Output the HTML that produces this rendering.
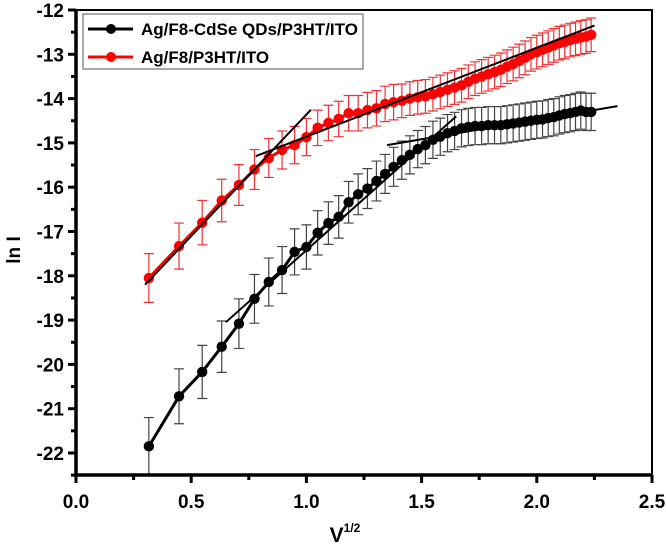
<!DOCTYPE html>
<html><head><meta charset="utf-8"><style>
body{margin:0;background:#fff}
svg{display:block;font-family:"Liberation Sans",Arial,sans-serif}
</style></head><body>
<svg id="chart" width="666" height="549">
<g id="plot"></g>
<g id="axes"></g>
</svg>
<script>
const xVoltSteps = [1,2,3,4,5,6,7,8,9,10,11,12,13,14,15,16,17,18,19,20,21,22,23,24,25,26,27,28,29,30,31,32,33,34,35,36,37,38,39,40,41,42,43,44,45,46,47,48,49,50];
const blackY = [-21.85,-20.72,-20.17,-19.6,-19.08,-18.52,-18.14,-17.87,-17.46,-17.35,-17.03,-16.81,-16.67,-16.34,-16.16,-16.03,-15.86,-15.70,-15.54,-15.39,-15.27,-15.14,-15.05,-14.93,-14.86,-14.78,-14.73,-14.67,-14.64,-14.62,-14.62,-14.6,-14.6,-14.6,-14.58,-14.56,-14.54,-14.52,-14.5,-14.48,-14.47,-14.44,-14.42,-14.38,-14.35,-14.33,-14.3,-14.27,-14.3,-14.3];
const redY = [-18.05,-17.33,-16.8,-16.3,-15.95,-15.6,-15.34,-15.16,-15.05,-14.87,-14.66,-14.55,-14.46,-14.33,-14.33,-14.26,-14.22,-14.12,-14.08,-14.05,-14.0,-13.97,-13.95,-13.9,-13.85,-13.8,-13.75,-13.7,-13.62,-13.55,-13.5,-13.45,-13.4,-13.35,-13.28,-13.22,-13.15,-13.08,-13.0,-12.95,-12.9,-12.85,-12.8,-12.75,-12.72,-12.68,-12.65,-12.62,-12.6,-12.56];
const blackErr = [0.65,0.62,0.6,0.58,0.56,0.55,0.54,0.53,0.52,0.5,0.5,0.48,0.48,0.47,0.46,0.45,0.45,0.44,0.44,0.43,0.43,0.42,0.42,0.42,0.42,0.42,0.42,0.42,0.42,0.42,0.42,0.42,0.42,0.42,0.42,0.42,0.42,0.42,0.42,0.42,0.42,0.42,0.42,0.42,0.42,0.42,0.42,0.42,0.42,0.42];
const redErr = [0.55,0.52,0.5,0.48,0.46,0.45,0.44,0.43,0.42,0.42,0.4,0.4,0.4,0.4,0.4,0.4,0.4,0.4,0.4,0.38,0.38,0.38,0.38,0.38,0.38,0.38,0.38,0.38,0.38,0.38,0.38,0.38,0.38,0.38,0.38,0.38,0.38,0.38,0.38,0.38,0.38,0.38,0.38,0.38,0.38,0.38,0.38,0.38,0.38,0.38];
const fitLines = [[0.3,-18.2,1.02,-14.25],[0.78,-15.3,2.25,-12.35],[0.65,-19.05,1.65,-14.4],[1.35,-15.05,2.35,-14.17]];
const xTicks = [0,0.5,1.0,1.5,2.0,2.5];
const xTickLabels = ["0.0","0.5","1.0","1.5","2.0","2.5"];
const yTicks = [-12,-13,-14,-15,-16,-17,-18,-19,-20,-21,-22];

const L=76,R=652,T=10,B=475;
const xs=v=>L+(v-0)/2.5*(R-L);
const ys=v=>T+(-12-v)*44.3;
const NS="http://www.w3.org/2000/svg";
function mk(tag,attrs,parent){const e=document.createElementNS(NS,tag);for(const k in attrs)e.setAttribute(k,attrs[k]);parent.appendChild(e);return e;}
const plot=document.getElementById('plot'), axes=document.getElementById('axes');
const clip=mk('clipPath',{id:'cp'},plot);mk('rect',{x:L,y:T,width:R-L,height:B-T},clip);
const pg=mk('g',{'clip-path':'url(#cp)'},plot);
const xVals=xVoltSteps.map(i=>Math.sqrt(i*0.1));

function series(yv,ev,color,barColor,name){
  const g=mk('g',{},pg);
  
  
  yv.forEach((y,i)=>{
    const x=xs(xVals[i]),y1=ys(y+ev[i]),y2=ys(y-ev[i]);
    const b=mk('path',{d:`M${x},${y1}V${y2}M${x-5},${y1}H${x+5}M${x-5},${y2}H${x+5}`,stroke:barColor,'stroke-width':1.2,fill:'none'},g);
    
    
  });
  const ln=mk('polyline',{points:yv.map((y,i)=>xs(xVals[i])+','+ys(y)).join(' '),stroke:color,'stroke-width':3,fill:'none'},g);
  
  
  yv.forEach((y,i)=>{
    const c=mk('circle',{cx:xs(xVals[i]),cy:ys(y),r:5.2,fill:color},g);
    
    
  });
}
series(blackY,blackErr,'#000','#444','black');
series(redY,redErr,'#f00','#e33','red');
fitLines.forEach(f=>{
  const l=mk('line',{x1:xs(f[0]),y1:ys(f[1]),x2:xs(f[2]),y2:ys(f[3]),stroke:'#000','stroke-width':2},pg);
  
  
});

mk('path',{d:`M${L},${T}H${R}V${B}`,stroke:'#000','stroke-width':2,fill:'none'},axes);
const la=mk('line',{x1:L,y1:T-1,x2:L,y2:B+1,stroke:'#000','stroke-width':3.5},axes);


const ba=mk('line',{x1:L-2,y1:B,x2:R+1,y2:B,stroke:'#000','stroke-width':3.5},axes);


xTicks.forEach((v,i)=>{
  const x=xs(v);
  mk('line',{x1:x,y1:B,x2:x,y2:B+8,stroke:'#000','stroke-width':3},axes);
  if(i<xTicks.length-1)mk('line',{x1:xs(v+0.25),y1:B,x2:xs(v+0.25),y2:B+5,stroke:'#000','stroke-width':3},axes);
  const t=mk('text',{x:x,y:B+33,'text-anchor':'middle','font-size':19,'font-weight':'bold'},axes);
  t.textContent=xTickLabels[i];
  
  
});
yTicks.forEach(v=>{
  const y=ys(v);
  mk('line',{x1:L-8,y1:y,x2:L,y2:y,stroke:'#000','stroke-width':3},axes);
  mk('line',{x1:L-5,y1:ys(v-0.5),x2:L,y2:ys(v-0.5),stroke:'#000','stroke-width':3},axes);
  const t=mk('text',{x:L-12,y:y+7,'text-anchor':'end','font-size':19,'font-weight':'bold'},axes);
  t.textContent=String(v);
  
  
});
</script>
<svg style="position:absolute;left:0;top:0" width="666" height="549">
<g font-family="Liberation Sans, Arial, sans-serif" font-weight="bold">
<text x="345" y="542" text-anchor="middle" font-size="21">V<tspan font-size="12" dy="-10">1/2</tspan></text>
<text transform="translate(20,250) rotate(-90)" text-anchor="middle" font-size="19">ln I</text>
<g>
<rect x="83" y="14" width="280" height="55" fill="#fff" stroke="#555" stroke-width="1"/>
<g>
<line x1="88" y1="29" x2="133" y2="29" stroke="#000" stroke-width="3"/><circle cx="111" cy="29" r="5" fill="#000"/>
<text x="141" y="35" font-size="17">Ag/F8-CdSe QDs/P3HT/ITO</text></g>
<g>
<line x1="88" y1="57" x2="133" y2="57" stroke="#f00" stroke-width="3"/><circle cx="111" cy="57" r="5" fill="#f00"/>
<text x="141" y="63" font-size="17">Ag/F8/P3HT/ITO</text></g>
</g></g></svg>
</body></html>
